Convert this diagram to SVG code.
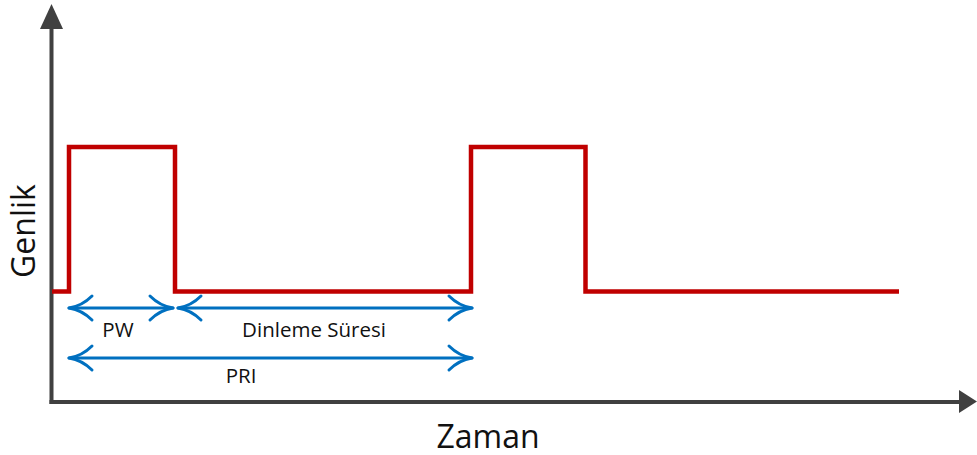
<svg xmlns="http://www.w3.org/2000/svg" width="977" height="455" viewBox="0 0 977 455">
  <style>
    .axis { stroke: #404040; stroke-width: 4; fill: none; }
    .axis-head { fill: #404040; }
    .signal { stroke: #C00000; stroke-width: 4.5; fill: none; stroke-linejoin: miter; }
    .span { stroke: #0070C0; stroke-width: 3; fill: none; stroke-linecap: round; stroke-linejoin: round; }
    .lbl { font-family: "Open Sans", "Liberation Sans", sans-serif; fill: #111; }
    .small { font-size: 20.5px; }
    .big { font-size: 32px; }
  </style>

  <!-- axes -->
  <g id="axes">
    <line class="axis" x1="51.5" y1="28" x2="51.5" y2="404"/>
    <polygon class="axis-head" points="51.5,4 40,29 63,29"/>
    <line class="axis" x1="49.5" y1="402" x2="960" y2="402"/>
    <polygon class="axis-head" points="977,401.5 959,390 959,413"/>
  </g>

  <!-- pulse train -->
  <g id="signal">
    <polyline class="signal" points="52,291.5 69,291.5 69,147 175,147 175,291.5 471,291.5 471,147 585.5,147 585.5,291.5 899,291.5"/>
  </g>

  <!-- interval spans -->
  <g id="connectors">
    <g id="pw-span">
      <line class="span" x1="69" y1="308" x2="173" y2="308"/>
      <path class="span" d="M92,296 Q82,306 69,308 Q82,310 92,320"/>
      <path class="span" d="M150,296 Q160,306 173,308 Q160,310 150,320"/>
    </g>
    <g id="listen-span">
      <line class="span" x1="178" y1="308" x2="472" y2="308"/>
      <path class="span" d="M201,296 Q191,306 178,308 Q191,310 201,320"/>
      <path class="span" d="M449,296 Q459,306 472,308 Q459,310 449,320"/>
    </g>
    <g id="pri-span">
      <line class="span" x1="69" y1="358" x2="472" y2="358"/>
      <path class="span" d="M92,346 Q82,356 69,358 Q82,360 92,370"/>
      <path class="span" d="M449,346 Q459,356 472,358 Q459,360 449,370"/>
    </g>
  </g>

  <!-- labels -->
  <g id="labels">
    <text class="lbl small" x="118" y="337" text-anchor="middle">PW</text>
    <text class="lbl small" x="314" y="337" text-anchor="middle">Dinleme Süresi</text>
    <text class="lbl small" x="241" y="383" text-anchor="middle">PRI</text>
    <text class="lbl big" x="488" y="447.5" text-anchor="middle">Zaman</text>
    <text class="lbl big" x="0" y="0" text-anchor="middle" transform="translate(35,231) rotate(-90)">Genlik</text>
  </g>
</svg>
